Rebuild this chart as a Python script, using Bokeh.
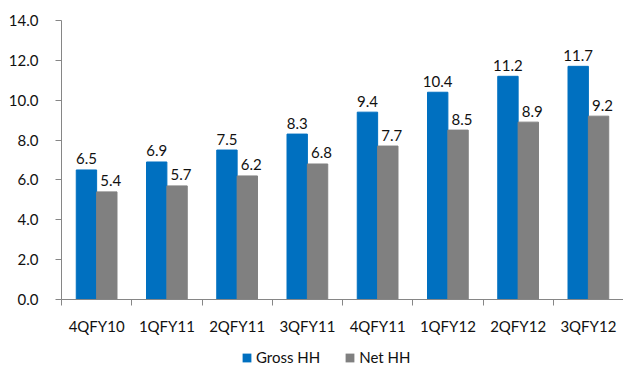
from bokeh.plotting import figure
from bokeh.layouts import column
from bokeh.models import ColumnDataSource, FixedTicker, Legend, LegendItem, Range1d
from bokeh.core.properties import value
from bokeh.embed import file_html
from bokeh.resources import INLINE

categories = ["4QFY10", "1QFY11", "2QFY11", "3QFY11", "4QFY11", "1QFY12", "2QFY12", "3QFY12"]
gross_hh = [6.5, 6.9, 7.5, 8.3, 9.4, 10.4, 11.2, 11.7]
net_hh = [5.4, 5.7, 6.2, 6.8, 7.7, 8.5, 8.9, 9.2]
series_names = ["Gross HH", "Net HH"]
y_ticks = [0, 2, 4, 6, 8, 10, 12, 14]

BLUE = "#0070C0"
GRAY = "#808080"
FONT = "Lato"
AXIS = "#868686"

n = len(categories)
centers = [i + 0.5 for i in range(n)]
bw = 0.29
src = ColumnDataSource(dict(
    xg=[c - bw / 2 for c in centers],
    xn=[c + bw / 2 for c in centers],
    g=gross_hh, nn=net_hh,
    gl=["%.1f" % v for v in gross_hh],
    nl=["%.1f" % v for v in net_hh],
))

p = figure(frame_width=562, frame_height=279, output_backend="svg", toolbar_location=None,
           x_range=Range1d(0, n), y_range=Range1d(0, 14),
           min_border_left=61, min_border_right=0, min_border_top=20, min_border_bottom=44)
p.outline_line_color = None
p.grid.grid_line_color = None
p.background_fill_color = "white"
p.border_fill_color = "white"

p.vbar(x="xg", top="g", width=bw, bottom=0, source=src, fill_color=BLUE, line_color=BLUE)
p.vbar(x="xn", top="nn", width=bw, bottom=0, source=src, fill_color=GRAY, line_color=GRAY)

p.text(x="xg", y="g", text="gl", source=src, text_align="center", text_baseline="alphabetic",
       y_offset=-11, text_font=value(FONT), text_font_size="15px", text_color="#111111")
p.text(x="xn", y="nn", text="nl", source=src, text_align="center", text_baseline="alphabetic",
       x_offset=4, y_offset=-11, text_font=value(FONT), text_font_size="15px", text_color="#111111")

# x axis
xa = p.xaxis[0]
xa.ticker = FixedTicker(ticks=centers, minor_ticks=list(range(n + 1)))
xa.major_label_overrides = {c: cat for c, cat in zip(centers, categories)}
xa.major_tick_out = 0
xa.major_tick_in = 0
xa.minor_tick_out = 6
xa.minor_tick_in = 0
xa.minor_tick_line_color = AXIS
xa.axis_line_color = AXIS
xa.major_label_standoff = 11
xa.major_label_text_font = FONT
xa.major_label_text_font_size = "15px"
xa.major_label_text_color = "#111111"

ya = p.yaxis[0]
ya.ticker = FixedTicker(ticks=y_ticks, minor_ticks=[])
ya.major_label_overrides = {t: "%.1f" % t for t in y_ticks}
ya.major_tick_out = 6
ya.major_tick_in = 0
ya.major_tick_line_color = AXIS
ya.axis_line_color = AXIS
ya.major_label_standoff = 17
ya.major_label_text_font = FONT
ya.major_label_text_font_size = "15px"
ya.major_label_text_color = "#111111"

# legend strip (legend renderers hold one zero-size bar, so nothing is drawn)
pl = figure(frame_width=623, frame_height=27, output_backend="svg", toolbar_location=None,
            x_axis_type=None, y_axis_type=None, x_range=Range1d(0, 1), y_range=Range1d(0, 1),
            min_border=0)
pl.outline_line_color = None
pl.grid.grid_line_color = None
pl.background_fill_color = "white"
pl.border_fill_color = "white"
hidden = ColumnDataSource(dict(x=[0.5], top=[0]))
lg = pl.vbar(x="x", top="top", bottom=0, width=0, source=hidden, fill_color=BLUE, line_color=None)
ln = pl.vbar(x="x", top="top", bottom=0, width=0, source=hidden, fill_color=GRAY, line_color=None)

legend = Legend(items=[LegendItem(label=series_names[0], renderers=[lg]),
                       LegendItem(label=series_names[1], renderers=[ln])],
                orientation="horizontal", location=(241, 4))
legend.border_line_color = None
legend.background_fill_alpha = 0
legend.glyph_width = 11
legend.glyph_height = 11
legend.label_height = 14
legend.label_text_font = FONT
legend.label_text_font_size = "15px"
legend.label_text_color = "#111111"
legend.label_standoff = 4
legend.spacing = 24
legend.padding = 0
legend.margin = 0
pl.add_layout(legend, "center")

layout = column(p, pl, spacing=0)
open("out.html", "w").write(file_html(layout, INLINE))
